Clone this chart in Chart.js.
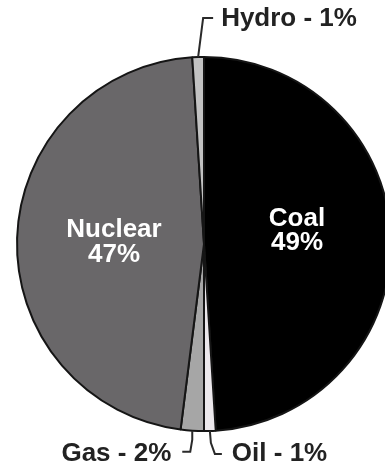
<!DOCTYPE html>
<html>
<head>
<meta charset="utf-8">
<script src="https://cdn.jsdelivr.net/npm/chart.js@4/dist/chart.umd.min.js"></script>
<style>
  html, body { margin: 0; padding: 0; background: #ffffff; overflow: hidden; }
  #wrap { position: relative; width: 385px; height: 473px; }
</style>
</head>
<body>
<div id="wrap"><canvas id="c" width="385" height="473"></canvas></div>
<script>
// Data (clockwise from 12 o'clock)
const categories = ['Coal', 'Oil', 'Gas', 'Nuclear', 'Hydro'];
const shares = [49, 1, 2, 47, 1];
const sliceColors = ['#000000', '#ece8ec', '#a6a6a6', '#696769', '#c2c2c2'];

// Label styling (positions relative to pie centre / slice edge)
const FONT = 'bold 26px "Liberation Sans", Arial, Helvetica, sans-serif';
const insideLabels = {
  Coal:    { dx: 93,  base: -18, gap: 24 },
  Nuclear: { dx: -90, base: -7,  gap: 25 }
};
const outsideLabels = {
  Hydro: { path: [[0, 0], [5, -39], [15, -39]], text: [23, -31], align: 'left' },
  Gas:   { path: [[0, 0], [0, 9], [-2, 21], [-10, 21]], text: [-21, 30], align: 'right' },
  Oil:   { path: [[0, 0], [1, 12], [5, 23], [12, 23]], text: [22, 30], align: 'left' }
};

const labelPlugin = {
  id: 'labelPlugin',
  afterDatasetsDraw(chart) {
    const ctx = chart.ctx;
    const meta = chart.getDatasetMeta(0);
    ctx.save();
    ctx.font = FONT;
    ctx.textBaseline = 'alphabetic';
    meta.data.forEach((arc, i) => {
      const name = categories[i];
      const val = shares[i];
      const p = arc.getProps(['x', 'y', 'startAngle', 'endAngle', 'outerRadius'], true);
      const cx = p.x, cy = p.y, R = p.outerRadius;
      if (insideLabels[name]) {
        const L = insideLabels[name];
        ctx.fillStyle = '#ffffff';
        ctx.textAlign = 'center';
        ctx.fillText(name, cx + L.dx, cy + L.base);
        ctx.fillText(val + '%', cx + L.dx, cy + L.base + L.gap);
      } else if (outsideLabels[name]) {
        const L = outsideLabels[name];
        const mid = (p.startAngle + p.endAngle) / 2;
        const ex = cx + R * Math.cos(mid);
        const ey = cy + R * Math.sin(mid);
        ctx.strokeStyle = '#2a2a2a';
        ctx.lineWidth = 2;
        ctx.beginPath();
        L.path.forEach((pt, k) => {
          if (k === 0) ctx.moveTo(ex + pt[0], ey + pt[1]);
          else ctx.lineTo(ex + pt[0], ey + pt[1]);
        });
        ctx.stroke();
        ctx.fillStyle = '#222222';
        ctx.textAlign = L.align;
        ctx.fillText(name + ' - ' + val + '%', ex + L.text[0], ey + L.text[1]);
      }
    });
    ctx.restore();
  }
};

new Chart(document.getElementById('c'), {
  type: 'pie',
  data: {
    labels: categories,
    datasets: [{
      data: shares,
      backgroundColor: sliceColors,
      borderColor: '#151515',
      borderWidth: 2,
      clip: false
    }]
  },
  options: {
    responsive: false,
    animation: false,
    radius: 187,
    rotation: 0,
    layout: { padding: { left: 23, right: 0, top: 57, bottom: 42 } },
    plugins: {
      legend: { display: false },
      tooltip: { enabled: false }
    },
    events: []
  },
  plugins: [labelPlugin]
});
</script>
</body>
</html>
